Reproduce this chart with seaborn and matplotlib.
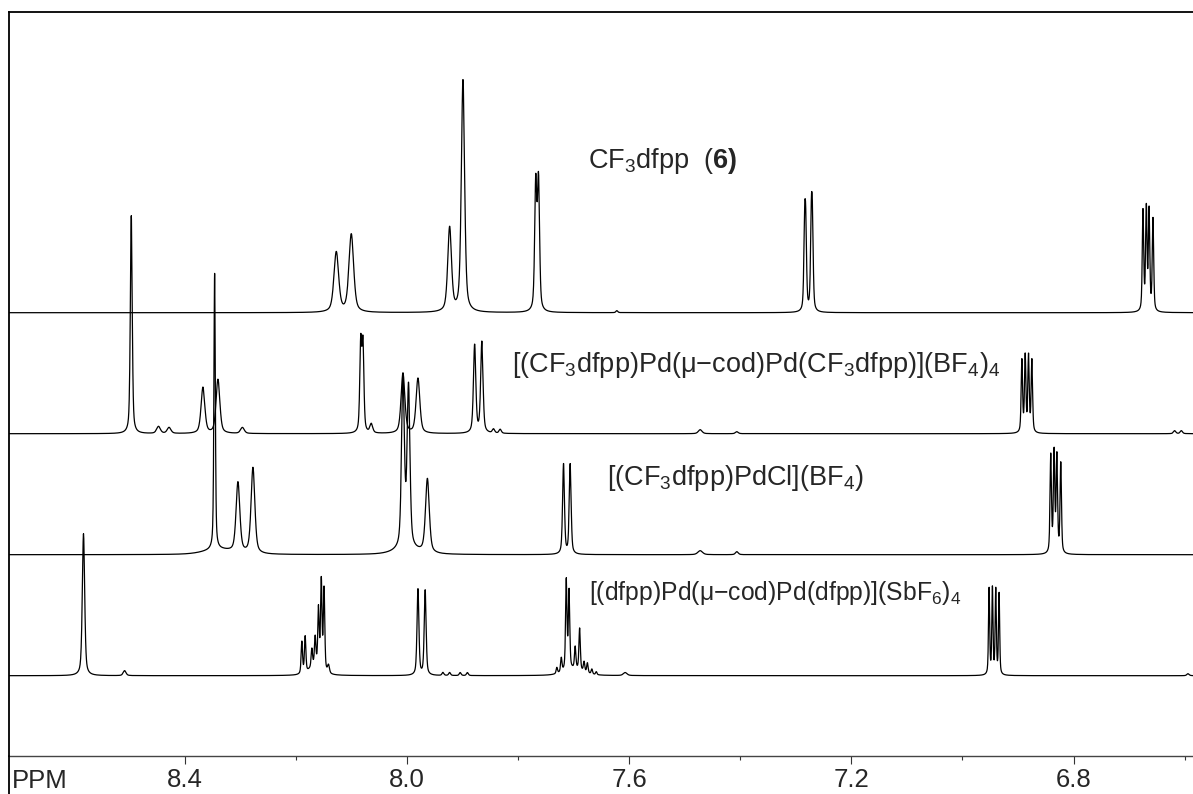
import numpy as np
import pandas as pd
import matplotlib
matplotlib.use("Agg")
import matplotlib.pyplot as plt
from matplotlib.lines import Line2D
import seaborn as sns

# ---------------- data: peak lists (ppm, height, FWHM in ppm)
s1_ppm    = [8.127, 8.100, 7.923, 7.899, 7.768, 7.763, 7.622,
             7.284, 7.282, 7.272, 7.270, 6.675, 6.669, 6.664, 6.657]
s1_height = [60, 78, 84, 232, 126, 128, 2,
             74, 71, 80, 74, 100, 102, 100, 92]
s1_width  = [0.010, 0.010, 0.008, 0.007, 0.0045, 0.0045, 0.004,
             0.0035, 0.0035, 0.0035, 0.0035, 0.003, 0.003, 0.003, 0.003]

s2_ppm    = [8.496, 8.447, 8.428, 8.367, 8.340, 8.296, 8.083, 8.079, 8.064,
             8.007, 7.980, 7.878, 7.865, 7.844, 7.832, 7.472, 7.406,
             6.893, 6.887, 6.881, 6.875, 6.618, 6.606]
s2_height = [218, 7, 6, 46, 54, 6, 88, 86, 9,
             60, 55, 88, 91, 4, 4, 4, 2,
             72, 76, 76, 72, 3, 3]
s2_width  = [0.004, 0.008, 0.008, 0.008, 0.008, 0.008, 0.004, 0.004, 0.006,
             0.008, 0.008, 0.005, 0.005, 0.005, 0.005, 0.008, 0.006,
             0.003, 0.003, 0.003, 0.003, 0.005, 0.005]

s3_ppm    = [8.346, 8.304, 8.277, 8.007, 7.997, 7.963, 7.718, 7.706,
             7.472, 7.406, 6.841, 6.835, 6.830, 6.823, 8.340, 8.000]
s3_height = [276, 70, 86, 170, 160, 74, 90, 90,
             4, 3, 98, 100, 96, 90, 5, 5]
s3_width  = [0.003, 0.008, 0.008, 0.006, 0.006, 0.008, 0.004, 0.004,
             0.010, 0.006, 0.003, 0.003, 0.003, 0.003, 0.06, 0.05]

s4_ppm    = [8.582, 8.508, 8.189, 8.183, 8.171, 8.165, 8.159, 8.154, 8.149, 8.141,
             8.165, 7.980, 7.967, 7.935, 7.923, 7.904, 7.891,
             7.730, 7.722, 7.713, 7.708, 7.697, 7.689, 7.681, 7.675, 7.667, 7.659,
             7.700, 7.607, 6.952, 6.946, 6.940, 6.934, 6.594]
s4_height = [142, 5, 32, 36, 18, 28, 58, 88, 82, 8,
             9, 86, 85, 3, 3, 3, 3,
             6, 14, 90, 78, 22, 42, 10, 10, 5, 3,
             6, 3, 86, 86, 85, 81, 2]
s4_width  = [0.005, 0.006, 0.003, 0.003, 0.003, 0.003, 0.003, 0.003, 0.003, 0.004,
             0.025, 0.004, 0.004, 0.004, 0.004, 0.004, 0.004,
             0.003, 0.003, 0.003, 0.003, 0.003, 0.003, 0.003, 0.003, 0.003, 0.003,
             0.04, 0.008, 0.0025, 0.0025, 0.0025, 0.0025, 0.005]

offsets = [443, 322, 201, 80]          # baseline of each trace above the axis
labels = [r"CF$_3$dfpp  ($\mathbf{6)}$",
          "[(CF$_3$dfpp)Pd(\u03bc\u2212cod)Pd(CF$_3$dfpp)](BF$_4$)$_4$",
          "[(CF$_3$dfpp)PdCl](BF$_4$)",
          "[(dfpp)Pd(\u03bc\u2212cod)Pd(dfpp)](SbF$_6$)$_4$"]
label_sizes = [19.5, 19.5, 19.5, 17.8]
major_ticks = [8.4, 8.0, 7.6, 7.2, 6.8]
major_labels = ["8.4", "8.0", "7.6", "7.2", "6.8"]
minor_ticks = [8.2, 7.8, 7.4, 7.0, 6.6]
x_left, x_right = 8.717, 6.585

# ---------------- build traces
def trace(ppm, pos, hgt, wid, eta=0.5):
    y = np.zeros_like(ppm)
    for c, h, w in zip(pos, hgt, wid):
        d = (ppm - c) / (w / 2.0)
        lor = 1.0 / (1.0 + d * d)
        gau = np.exp(-np.log(2) * d * d)
        y += h * (eta * lor + (1 - eta) * gau)
    return y

grid = np.linspace(x_right, x_left, 9000)
specs = [(s1_ppm, s1_height, s1_width), (s2_ppm, s2_height, s2_width),
         (s3_ppm, s3_height, s3_width), (s4_ppm, s4_height, s4_width)]
frames = []
for i, (p, h, w) in enumerate(specs):
    frames.append(pd.DataFrame({"ppm": grid,
                                "y": offsets[i] + trace(grid, p, h, w),
                                "spec": i}))
df = pd.concat(frames, ignore_index=True)

# ---------------- figure
sns.set_theme(style="white")
plt.rcParams["font.family"] = ["Liberation Sans", "DejaVu Sans"]
plt.rcParams["mathtext.fontset"] = "custom"
plt.rcParams["mathtext.rm"] = "Liberation Sans"
plt.rcParams["mathtext.it"] = "Liberation Sans:italic"
plt.rcParams["mathtext.bf"] = "Liberation Sans:bold"

W, H = 1193, 794
fig = plt.figure(figsize=(W / 100, H / 100), dpi=100)
ax_l, ax_r, ax_t, ax_b = 8.5, 1193, 12.3, 755.7
ax = fig.add_axes([ax_l / W, 1 - ax_b / H, (ax_r - ax_l) / W, (ax_b - ax_t) / H])

for i in range(4):
    sns.lineplot(data=df[df["spec"] == i], x="ppm", y="y", ax=ax, color="black",
                 lw=0.9, estimator=None, sort=False, legend=False)

ax.set_xlim(x_left, x_right)
ax.set_ylim(0, ax_b - ax_t)
ax.set_xlabel("")
ax.set_ylabel("")
ax.set_yticks([])
ax.set_xticks(major_ticks)
ax.set_xticklabels(major_labels)
ax.set_xticks(minor_ticks, minor=True)
ax.tick_params(axis="x", which="major", direction="out", length=5.5, width=0.8,
               color="#333333", labelsize=18.5, pad=3, bottom=True)
ax.tick_params(axis="x", which="minor", direction="out", length=3.2, width=0.8,
               color="#333333", bottom=True)
for s in ["top", "left", "right"]:
    ax.spines[s].set_color("black")
    ax.spines[s].set_linewidth(1.3)
ax.spines["right"].set_visible(False)
ax.spines["bottom"].set_color("#444444")
ax.spines["bottom"].set_linewidth(1.0)

# left border continues through the label row
fig.add_artist(Line2D([ax_l / W, ax_l / W], [0, 1 - ax_b / H],
                      transform=fig.transFigure, color="black", lw=1.3))

fig.text(11.7 / W, 1 - 787.5 / H, "PPM", fontsize=18.5, ha="left", va="baseline")

label_pos = [(588, 168), (511.7, 372), (606.7, 485), (589.3, 600)]
for (lx, ly), txt, fs in zip(label_pos, labels, label_sizes):
    fig.text(lx / W, 1 - ly / H, txt, fontsize=fs, ha="left", va="baseline")

fig.savefig("out.png", dpi=100)
